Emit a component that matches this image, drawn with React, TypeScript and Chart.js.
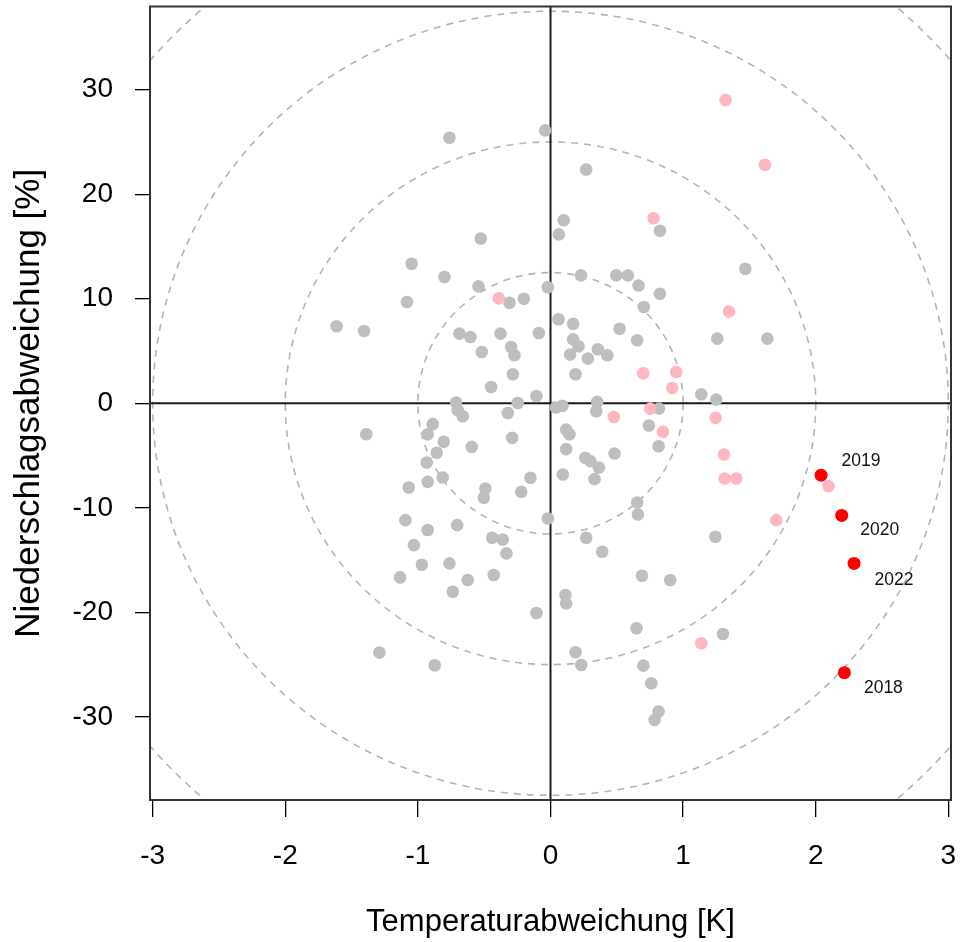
import { useEffect, useRef } from "react";
import { Chart, registerables } from "chart.js";

Chart.register(...registerables);

// ---- data ----
const grayX = [
  -1.047, -0.762, -0.04, 0.269, 0.825, 0.1, 0.063, -0.526, 1.469,
  -1.082, -1.613, -1.406, -1.389, -1.069, -1.094,
  -0.8, 0.23, 0.496, 0.584, -0.543, -0.02, 0.664, 0.825, -0.309, -0.201,
  0.704, 0.06, 0.171, 0.521, 0.654, -0.687, -0.604, -0.377, -0.088, 0.171,
  0.211, 0.148, 0.357, 0.428, 0.282, -0.518, -0.297, -0.272, -0.284, 0.189,
  -0.448, -0.106, -0.712, -0.7, -0.662, -0.247, -0.322, 0.04, 0.09, 0.352,
  0.345, 0.818, -0.888, -0.926, 0.742, 0.118, 0.143, -0.805, -0.289, -0.594,
  -0.858, 0.118, 0.815, 0.483, -0.934, 0.262, 0.3, 0.365, -0.813, -0.926,
  -0.151, 0.093, 0.332, -0.491, -0.503, -0.221, 0.654, 0.659, -0.02, -0.704,
  -0.926, -0.44, -0.36, 0.269,
  1.258, 1.635, 1.137, 1.25, 1.243, 1.3,
  -1.03, -0.97, -1.134, -1.29, -0.332, -0.762, -0.624, -0.428, -0.737, -0.106,
  -0.873, 0.39, 0.69, 0.903, 0.113, 0.118, 0.649, 0.189, 0.232, 0.7, 0.76,
  0.815, 0.785,
];
const grayY = [
  13.35, 25.4, 26.1, 22.36, 16.5, 17.5, 16.15, 15.76, 12.87,
  9.68, 7.36, 6.91, -2.96, -8.06, -11.18,
  12.07, 12.23, 12.23, 12.23, 11.18, 11.1, 11.27, 10.48, 9.62, 10.0,
  9.2, 8.03, 7.61, 7.13, 6.02, 6.66, 6.34, 6.66, 6.72, 6.11,
  5.45, 4.65, 5.16, 4.59, 4.27, 4.9, 5.38, 4.59, 2.77, 2.77,
  1.56, 0.7, 0.07, -0.67, -1.24, 0.03, -0.93, -0.4, -0.25, 0.13,
  -0.76, -0.51, -2.0, -2.96, -2.13, -2.52, -2.96, -3.69, -3.31, -4.17,
  -4.74, -4.39, -4.11, -4.81, -5.67, -5.22, -5.54, -6.15, -7.1, -7.52,
  -7.13, -6.82, -7.26, -8.15, -9.04, -8.47, -9.49, -10.64, -11.02, -11.66,
  -12.13, -12.87, -13.03, -12.87,
  6.18, 6.18, 0.86, 0.35, -12.77, -22.07,
  -13.57, -15.45, -16.66, -23.85, -14.36, -15.32, -16.91, -16.43, -18.03, -20.06,
  -25.06, -14.2, -16.5, -16.91, -18.34, -19.14, -21.52, -23.82, -25.03, -25.1, -26.78,
  -29.49, -30.29,
];

const pinkX = [
  1.321, 1.617, 0.777, -0.39, 1.346, 0.7, 0.948, 0.918, 0.752,
  0.478, 0.848, 1.245, 1.308, 1.313, 1.401, 2.096, 1.703, 1.137,
];
const pinkY = [
  29.0, 22.8, 17.7, 10.03, 8.76, 2.87, 2.99, 1.46, -0.51,
  -1.31, -2.74, -1.4, -4.9, -7.2, -7.2, -7.93, -11.18, -22.96,
];

const redLabels = ["2018", "2019", "2020", "2022"];
const redX = [2.216, 2.04, 2.196, 2.289];
const redY = [-25.77, -6.88, -10.73, -15.32];

const xTicks = [-3, -2, -1, 0, 1, 2, 3];
const yTicks = [-30, -20, -10, 0, 10, 20, 30];
const ringRadii = [1, 2, 3, 4];
const ringYPerX = 12.5;
const xLimits = [-3.02, 3.02];
const yLimits = [-37.95, 37.95];

const xTitle = "Temperaturabweichung [K]";
const yTitle = "Niederschlagsabweichung [%]";

// ---- styling ----
const FONT = '"Liberation Sans", Arial, Helvetica, sans-serif';
const labelOffsets: Record<string, [number, number]> = {
  "2018": [39, 16],
  "2019": [40, -14],
  "2020": [38, 15],
  "2022": [40, 17],
};

const toPoints = (xs: number[], ys: number[]) => xs.map((x, i) => ({ x, y: ys[i] }));

const zeroPad = (s: any) => {
  s.paddingTop = 0;
  s.paddingBottom = 0;
  s.paddingLeft = 0;
  s.paddingRight = 0;
};

const decorPlugin = {
  id: "decor",
  beforeDatasetsDraw(chart: any) {
    const { ctx, chartArea: a, scales } = chart;
    const xs = scales.x;
    const ys = scales.y;
    const cx = xs.getPixelForValue(0);
    const cy = ys.getPixelForValue(0);
    ctx.save();
    ctx.beginPath();
    ctx.rect(a.left, a.top, a.right - a.left, a.bottom - a.top);
    ctx.clip();
    ctx.strokeStyle = "#b4b4b4";
    ctx.lineWidth = 1.6;
    ctx.setLineDash([7, 6]);
    for (const r of ringRadii) {
      const rx = Math.abs(xs.getPixelForValue(r) - cx);
      const ry = Math.abs(ys.getPixelForValue(r * ringYPerX) - cy);
      ctx.beginPath();
      ctx.ellipse(cx, cy, rx, ry, 0, 0, Math.PI * 2);
      ctx.stroke();
    }
    ctx.setLineDash([]);
    ctx.strokeStyle = "#1a1a1a";
    ctx.lineWidth = 2;
    ctx.beginPath();
    ctx.moveTo(cx, a.top);
    ctx.lineTo(cx, a.bottom);
    ctx.moveTo(a.left, cy);
    ctx.lineTo(a.right, cy);
    ctx.stroke();
    ctx.restore();
  },
  afterDatasetsDraw(chart: any) {
    const { ctx, scales } = chart;
    ctx.save();
    ctx.font = `17.5px ${FONT}`;
    ctx.fillStyle = "#111";
    ctx.textAlign = "center";
    ctx.textBaseline = "middle";
    redLabels.forEach((lab, i) => {
      const px = scales.x.getPixelForValue(redX[i]);
      const py = scales.y.getPixelForValue(redY[i]);
      const [dx, dy] = labelOffsets[lab] || [38, 15];
      ctx.fillText(lab, px + dx, py + dy);
    });
    ctx.restore();
  },
  afterDraw(chart: any) {
    const { ctx, chartArea: a } = chart;
    ctx.save();
    ctx.strokeStyle = "#333";
    ctx.lineWidth = 2;
    ctx.strokeRect(a.left, a.top, a.right - a.left, a.bottom - a.top);
    ctx.restore();
  },
};

export default function App() {
  const ref = useRef<HTMLCanvasElement | null>(null);
  useEffect(() => {
    if (!ref.current) return;
    const chart = new Chart(ref.current, {
      type: "scatter",
      data: {
        datasets: [
          {
            label: "rot",
            data: toPoints(redX, redY),
            backgroundColor: "#ff0000",
            borderWidth: 0,
            pointRadius: 6.5,
            order: 0,
          },
          {
            label: "rosa",
            data: toPoints(pinkX, pinkY),
            backgroundColor: "#ffb6c1",
            borderWidth: 0,
            pointRadius: 6.3,
            order: 1,
          },
          {
            label: "grau",
            data: toPoints(grayX, grayY),
            backgroundColor: "#bebebe",
            borderWidth: 0,
            pointRadius: 6.3,
            order: 2,
          },
        ],
      },
      options: {
        animation: false,
        responsive: false,
        maintainAspectRatio: false,
        layout: { padding: { left: 0, right: 9, top: 5, bottom: 0 } },
        plugins: {
          legend: { display: false },
          tooltip: { enabled: false },
        },
        scales: {
          x: {
            type: "linear",
            min: xLimits[0],
            max: xLimits[1],
            afterBuildTicks: (s: any) => {
              s.ticks = xTicks.map((v) => ({ value: v }));
            },
            afterFit: (s: any) => {
              s.height = 142;
              zeroPad(s);
            },
            grid: {
              drawOnChartArea: false,
              drawTicks: true,
              tickLength: 17,
              color: "#000",
              lineWidth: 1.3,
            },
            border: { display: false },
            ticks: {
              font: { family: FONT, size: 28 },
              color: "#000",
              padding: 22,
              maxRotation: 0,
              autoSkip: false,
              callback: (v: any) => String(v),
            },
            title: {
              display: true,
              text: xTitle,
              font: { family: FONT, size: 31 },
              color: "#000",
              padding: { top: 0, bottom: 1 },
            },
          },
          y: {
            type: "linear",
            min: yLimits[0],
            max: yLimits[1],
            afterBuildTicks: (s: any) => {
              s.ticks = yTicks.map((v) => ({ value: v }));
            },
            afterFit: (s: any) => {
              s.width = 150;
              zeroPad(s);
            },
            grid: {
              drawOnChartArea: false,
              drawTicks: true,
              tickLength: 15,
              color: "#000",
              lineWidth: 1.3,
            },
            border: { display: false },
            ticks: {
              font: { family: FONT, size: 28 },
              color: "#000",
              padding: 22,
              autoSkip: false,
              callback: (v: any) => String(v),
            },
            title: {
              display: true,
              text: yTitle,
              font: { family: FONT, size: 35 },
              color: "#000",
              padding: { top: 8, bottom: 0 },
            },
          },
        },
      },
      plugins: [decorPlugin],
    } as any);
    return () => chart.destroy();
  }, []);
  return (
    <div style={{ position: "absolute", left: 0, top: 0, width: 960, height: 942, background: "#fff" }}>
      <canvas ref={ref} width={960} height={942} style={{ display: "block", width: 960, height: 942 }} />
    </div>
  );
}
